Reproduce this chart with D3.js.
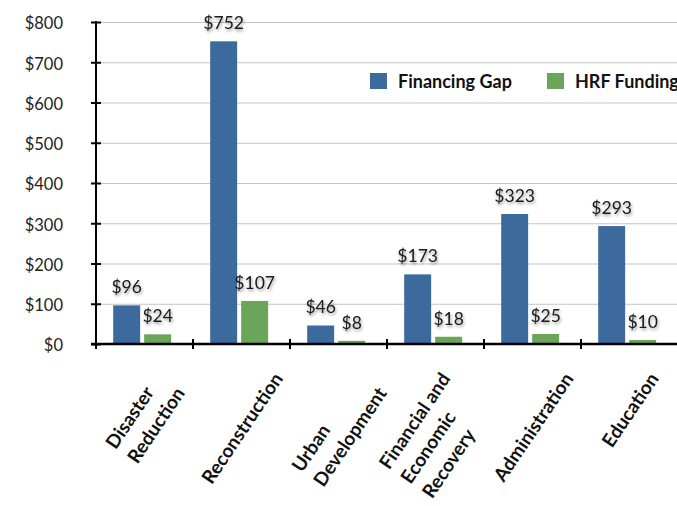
<!DOCTYPE html>
<html>
<head>
<meta charset="utf-8">
<script src="https://cdn.jsdelivr.net/npm/d3@7"></script>
<style>
  body { margin: 0; background: #fff; }
  svg { display: block; overflow: visible; }
</style>
</head>
<body>
<div id="chart"></div>
<script>
// chart values
const categories = ["Disaster Reduction", "Reconstruction", "Urban Development",
                    "Financial and Economic Recovery", "Administration", "Education"];
const catLines = [["Disaster", "Reduction"], ["Reconstruction"], ["Urban", "Development"],
                  ["Financial and", "Economic", "Recovery"], ["Administration"], ["Education"]];
const seriesNames = ["Financing Gap", "HRF Funding"];
const financingGap = [96, 752, 46, 173, 323, 293];
const hrfFunding = [24, 107, 8, 18, 25, 10];
const yTicks = [0, 100, 200, 300, 400, 500, 600, 700, 800];

const width = 677, height = 506;
const margin = {top: 22, right: 0, bottom: 162, left: 96};
const colors = {"Financing Gap": "#3d6a9d", "HRF Funding": "#6ba55a"};
const labelAngle = -56;

let svg = d3.select("#chart")
    .append("svg")
    .attr("width", width)
    .attr("height", height);

// soft shadow behind value labels
let defs = svg.append("defs");
let f = defs.append("filter").attr("id", "shadow")
    .attr("x", "-20%").attr("y", "-30%").attr("width", "140%").attr("height", "160%");
f.append("feGaussianBlur").attr("in", "SourceAlpha").attr("stdDeviation", 1.8).attr("result", "b");
f.append("feOffset").attr("in", "b").attr("dx", 1).attr("dy", 1.5).attr("result", "o");
f.append("feComponentTransfer").attr("in", "o").attr("result", "s")
    .append("feFuncA").attr("type", "linear").attr("slope", 0.4);
let fm = f.append("feMerge");
fm.append("feMergeNode").attr("in", "s");
fm.append("feMergeNode").attr("in", "SourceGraphic");

let g = svg.append("g").attr("transform", `translate(${margin.left},${margin.top})`);
const plotW = width - margin.left - margin.right + 1;
const plotH = height - margin.top - margin.bottom;

let y = d3.scaleLinear().domain([0, 800]).range([plotH, 0]);
let x0 = d3.scaleBand().domain(categories).range([0, plotW]).padding(0);
let x1 = d3.scaleBand().domain(seriesNames).range([0, x0.bandwidth()])
    .paddingInner(0.13).paddingOuter(0.63).align(0.44);

// gridlines
g.append("g")
    .call(d3.axisLeft(y).tickValues(yTicks).tickSize(-plotW).tickFormat(""))
    .call(s => s.select(".domain").remove())
    .call(s => s.selectAll("line").attr("stroke", "#c4c4c4").attr("stroke-width", 1));

// legend
let legend = g.append("g").attr("transform", `translate(${370 - margin.left},${73 - margin.top})`);
const legendX = [0, 177];
seriesNames.forEach(function(name, i) {
    legend.append("rect").attr("x", legendX[i]).attr("y", 0)
        .attr("width", 17).attr("height", 16).attr("fill", colors[name]);
    legend.append("text").attr("x", legendX[i] + 28).attr("y", 14.5)
        .style("font-family", "Lato").style("font-weight", "bold").style("font-size", "18px")
        .attr("fill", "#111").text(name);
});

// bars
let data = categories.map(function(c, i) {
    return {cat: c, values: [
        {name: seriesNames[0], v: financingGap[i]},
        {name: seriesNames[1], v: hrfFunding[i]}]};
});

let groups = g.selectAll(".grp").data(data).enter()
    .append("g").attr("class", "grp")
    .attr("transform", d => `translate(${x0(d.cat)},0)`);

groups.selectAll("rect").data(d => d.values).enter()
    .append("rect")
    .attr("x", d => x1(d.name))
    .attr("y", d => y(d.v))
    .attr("width", x1.bandwidth())
    .attr("height", d => plotH - y(d.v))
    .attr("fill", d => colors[d.name]);

groups.selectAll("text").data(d => d.values).enter()
    .append("text")
    .attr("x", d => x1(d.name) + x1.bandwidth() / 2)
    .attr("y", d => y(d.v) - 12)
    .attr("text-anchor", "middle")
    .attr("filter", "url(#shadow)")
    .style("font-family", "Lato").style("font-size", "17.5px")
    .attr("fill", "#1a1a1a")
    .text(d => "$" + d.v);

// y axis
g.append("g")
    .call(d3.axisLeft(y).tickValues(yTicks).tickSize(5).tickPadding(28).tickFormat(d => "$" + d))
    .call(s => s.select(".domain").attr("stroke", "#000").attr("stroke-width", 2)
        .attr("d", `M0,-1V${plotH + 4}`))
    .call(s => s.selectAll(".tick line").attr("x1", -5).attr("x2", 5)
        .attr("stroke", "#000").attr("stroke-width", 2))
    .call(s => s.selectAll(".tick text").style("font-family", "Lato")
        .style("font-size", "16.5px").attr("fill", "#222").attr("dy", "0.42em"));

// x axis
let xa = g.append("g").attr("transform", `translate(0,${plotH})`);
xa.append("line").attr("x1", -5).attr("x2", plotW + 10)
    .attr("stroke", "#000").attr("stroke-width", 2.5);
xa.selectAll(".xt").data(categories).enter()
    .append("line").attr("class", "xt")
    .attr("x1", d => x0(d)).attr("x2", d => x0(d))
    .attr("y1", -5).attr("y2", 5)
    .attr("stroke", "#000").attr("stroke-width", 2);

// rotated category labels, box centred under each band
const svgNode = svg.node();
catLines.forEach(function(lines, i) {
    let lab = svg.append("g").attr("transform", `rotate(${labelAngle})`);
    lines.forEach(function(line, j) {
        lab.append("text").attr("x", 0).attr("y", j * 26)
            .style("font-family", "Lato").style("font-weight", "bold").style("font-size", "19px")
            .attr("fill", "#111").text(line);
    });
    let sb = svgNode.getBoundingClientRect();
    let bb = lab.node().getBoundingClientRect();
    let cx = margin.left + x0(categories[i]) + x0.bandwidth() / 2;
    let tx = cx - (bb.left - sb.left + bb.width / 2);
    let ty = 368 - (bb.top - sb.top);
    lab.attr("transform", `translate(${tx},${ty}) rotate(${labelAngle})`);
});
</script>
</body>
</html>
